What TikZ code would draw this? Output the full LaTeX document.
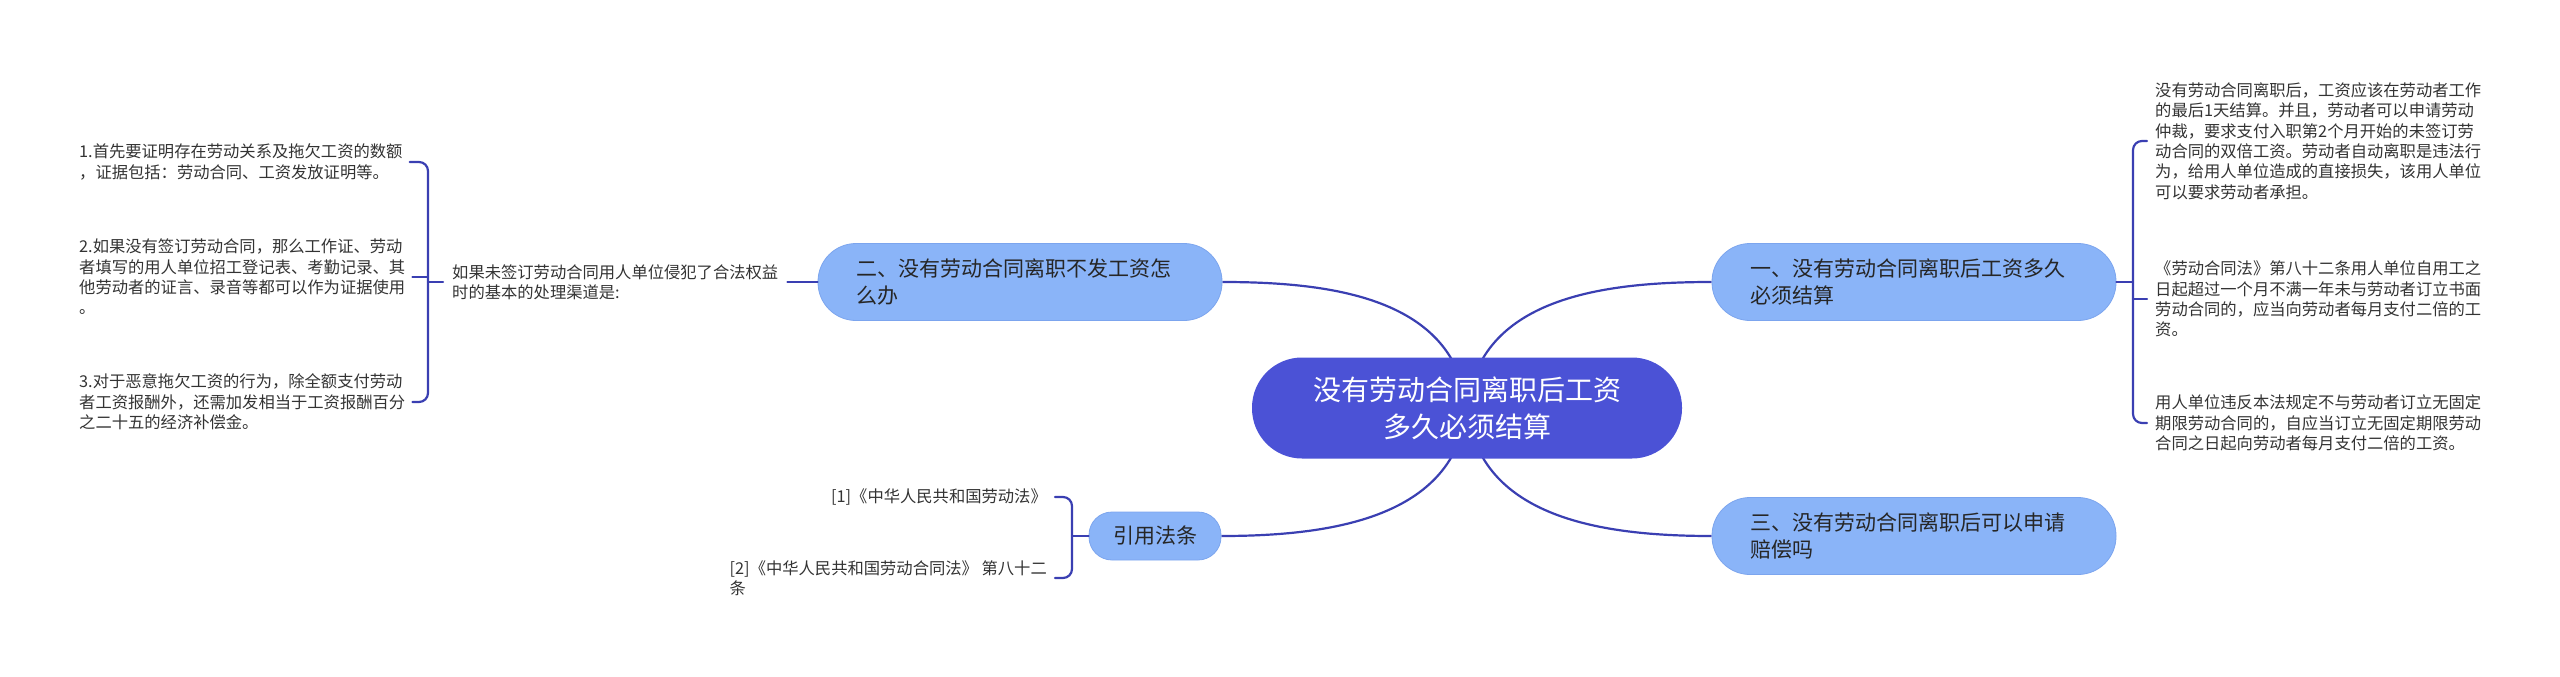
\documentclass[tikz,border=0pt]{standalone}
\usepackage{fontspec}
\setmainfont{Noto Sans CJK SC}
\usetikzlibrary{backgrounds}

\definecolor{rootblue}{RGB}{75,82,214}
\definecolor{topicblue}{RGB}{138,180,248}
\definecolor{topicline}{RGB}{124,165,238}
\definecolor{linkblue}{RGB}{58,63,178}
\definecolor{leafgray}{RGB}{51,51,51}

\begin{document}
\begin{tikzpicture}[x=1pt,y=-1pt,line cap=round,line join=round,
    rootnode/.style={fill=rootblue,text=white,rounded corners=50pt,
        minimum width=430pt,minimum height=101pt,align=center,
        font=\fontsize{28}{37}\selectfont},
    topic/.style={fill=topicblue,draw=topicline,line width=0.8pt,text=black!85,
        rounded corners=38pt,minimum height=77pt,text width=328pt,
        inner xsep=38pt,align=left,font=\fontsize{21}{27}\selectfont},
    leaf/.style={text=leafgray,inner xsep=8pt,inner ysep=2pt,align=left,
        font=\fontsize{16.3}{20.4}\selectfont},
    link/.style={linkblue,line width=2.2pt}]
        \useasboundingbox (0,0) rectangle (2560,677);

        % Tema central y ramas
        \node[rootnode] (root) at (1467,408)
            {没有劳动合同离职后工资\\多久必须结算};
        \node[topic] (q1) at (1914,282) {一、没有劳动合同离职后工资多久\\必须结算};
        \node[topic] (q2) at (1020,282) {二、没有劳动合同离职不发工资怎\\么办};
        \node[topic] (q3) at (1914,536) {三、没有劳动合同离职后可以申请\\赔偿吗};
        \node[topic,text width=84pt,inner xsep=24pt,minimum height=48pt,
            rounded corners=23pt,align=center] (law) at (1155,536) {引用法条};

        % Curvas desde el centro
        \begin{pgfonlayer}{background}
            \draw[link] (root.center) .. controls (1479,298) and (1602,282) .. (q1.west);
            \draw[link] (root.center) .. controls (1455,298) and (1332,282) .. (q2.east);
            \draw[link] (root.center) .. controls (1479,518) and (1602,536) .. (q3.west);
            \draw[link] (root.center) .. controls (1455,518) and (1331,536) .. (law.east);
        \end{pgfonlayer}

        % Detalle de la rama uno
        \foreach \n/\y/\txt in {
            r1/141/{没有劳动合同离职后，工资应该在劳动者工作\\的最后1天结算。并且，劳动者可以申请劳动\\仲裁，要求支付入职第2个月开始的未签订劳\\动合同的双倍工资。劳动者自动离职是违法行\\为，给用人单位造成的直接损失，该用人单位\\可以要求劳动者承担。},
            r2/299/{《劳动合同法》第八十二条用人单位自用工之\\日起超过一个月不满一年未与劳动者订立书面\\劳动合同的，应当向劳动者每月支付二倍的工\\资。},
            r3/423/{用人单位违反本法规定不与劳动者订立无固定\\期限劳动合同的，自应当订立无固定期限劳动\\合同之日起向劳动者每月支付二倍的工资。}} {
            \node[leaf,anchor=west] (\n) at (2147,\y) {\txt};
        }
        \draw[link,rounded corners=9pt] (r1.west) -- (2133,141) -- (2133,423) -- (r3.west);
        \draw[link] (r2.west) -- (2133,299);
        \draw[link] (q1.east) -- (2133,282);

        % Detalle de la rama dos
        \node[leaf,anchor=west,inner xsep=9pt] (way) at (443,282)
            {如果未签订劳动合同用人单位侵犯了合法权益\\时的基本的处理渠道是:};
        \foreach \n/\y/\txt in {
            i1/162/{1.首先要证明存在劳动关系及拖欠工资的数额\\，证据包括：劳动合同、工资发放证明等。},
            i2/277/{2.如果没有签订劳动合同，那么工作证、劳动\\者填写的用人单位招工登记表、考勤记录、其\\他劳动者的证言、录音等都可以作为证据使用\\。},
            i3/402/{3.对于恶意拖欠工资的行为，除全额支付劳动\\者工资报酬外，还需加发相当于工资报酬百分\\之二十五的经济补偿金。}} {
            \node[leaf,anchor=west,inner xsep=7pt] (\n) at (72,\y) {\txt};
        }
        \draw[link,rounded corners=9pt] (i1.east) -- (428,162) -- (428,402) -- (i3.east);
        \draw[link] (i2.east) -- (428,277);
        \draw[link] (428,282) -- (way.west);
        \draw[link] (way.east) -- (q2.west);

        % Leyes citadas
        \node[leaf,anchor=east] (ref1) at (1055,497) {[1]《中华人民共和国劳动法》};
        \node[leaf,anchor=east] (ref2) at (1055,578)
            {[2]《中华人民共和国劳动合同法》 第八十二\\条};
        \draw[link,rounded corners=9pt] (ref1.east) -- (1072,497) -- (1072,578) -- (ref2.east);
        \draw[link] (1072,536) -- (law.west);
    \end{tikzpicture}
\end{document}
